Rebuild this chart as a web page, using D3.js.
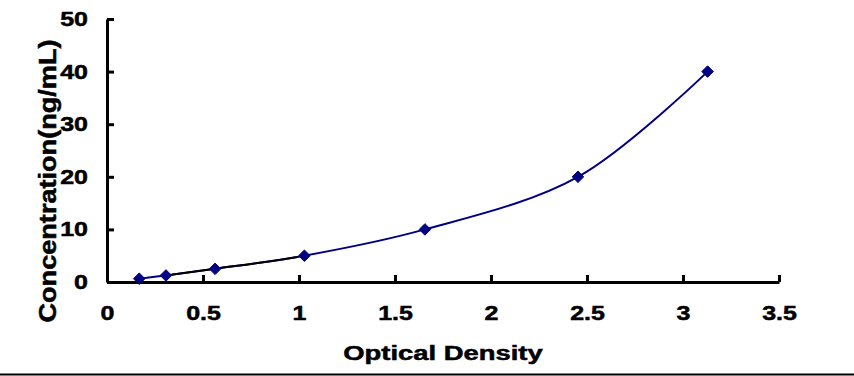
<!DOCTYPE html>
<html>
<head>
<meta charset="utf-8">
<script src="https://cdn.jsdelivr.net/npm/d3@7"></script>
<style>
  body { margin: 0; background: #fff; }
  svg { display: block; }
  text { font-family: "Liberation Sans", Arial, sans-serif; font-weight: bold; fill: #000; stroke: #000; stroke-width: 0.5px; }
</style>
</head>
<body>
<svg id="chart" width="854" height="376"></svg>
<script>
// standard curve readings
const odValues = [0.168, 0.307, 0.563, 1.028, 1.656, 2.453, 3.128];
const concValues = [0.625, 1.25, 2.5, 5, 10, 20, 40];
const xTicks = [0, 0.5, 1, 1.5, 2, 2.5, 3, 3.5];
const yTicks = [0, 10, 20, 30, 40, 50];
const xTitle = "Optical Density";
const yTitle = "Concentration(ng/mL)";

const stretch = 1.25; // the picture's text is wider than it is tall
const navy = "#000080";

const svg = d3.select("#chart");

const x = d3.scaleLinear().domain([0, 3.5]).range([107, 779]);
const y = d3.scaleLinear().domain([0, 50]).range([282, 19]);

const points = odValues.map((d, i) => [d, concValues[i]]);

function widen(sel, k) {
    sel.each(function () {
        const w = this.getComputedTextLength();
        d3.select(this).attr("textLength", w * k).attr("lengthAdjust", "spacingAndGlyphs");
    });
}

// x axis, ticks pointing up
const gx = svg.append("g")
    .attr("transform", "translate(0,282)")
    .call(d3.axisBottom(x).tickValues(xTicks).tickFormat(d => String(d))
        .tickSize(-7).tickSizeOuter(0).tickPadding(24));

// y axis, ticks pointing right
const gy = svg.append("g")
    .attr("transform", "translate(107,0)")
    .call(d3.axisLeft(y).tickValues(yTicks).tickFormat(d => String(d))
        .tickSize(-7).tickSizeOuter(0).tickPadding(19));

[gx, gy].forEach(g => {
    g.selectAll(".domain, .tick line").attr("stroke", "#000").attr("stroke-width", 3);
    g.selectAll("text").attr("font-size", 20).attr("font-family", null).call(widen, stretch);
});

// fitted curve
const line = d3.line()
    .x(d => x(d[0]))
    .y(d => y(d[1]))
    .curve(d3.curveCatmullRom.alpha(0.5));

svg.append("path")
    .datum(points)
    .attr("d", line)
    .attr("fill", "none")
    .attr("stroke", navy)
    .attr("stroke-width", 2);

// middle stretch of the curve shows black in the reference
svg.append("clipPath").attr("id", "mid")
    .append("rect")
    .attr("x", x(odValues[1]) + 6).attr("y", 0)
    .attr("width", x(odValues[3]) - x(odValues[1]) - 12).attr("height", 376);

svg.append("path")
    .datum(points)
    .attr("d", line)
    .attr("clip-path", "url(#mid)")
    .attr("fill", "none")
    .attr("stroke", "#000")
    .attr("stroke-width", 2);

// diamond markers
svg.selectAll(".pt")
    .data(points)
    .enter().append("path")
    .attr("class", "pt")
    .attr("transform", d => "translate(" + x(d[0]) + "," + y(d[1]) + ")")
    .attr("d", d3.symbol(d3.symbolDiamond2, 85))
    .attr("fill", navy)
    .attr("stroke", navy)
    .attr("stroke-width", 1);

// axis titles
svg.append("text")
    .attr("x", 443).attr("y", 360)
    .attr("text-anchor", "middle")
    .attr("font-size", 20)
    .text(xTitle)
    .call(widen, 1.37);

svg.append("text")
    .attr("transform", "translate(56,181) rotate(-90)")
    .attr("text-anchor", "middle")
    .attr("font-size", 24)
    .attr("textLength", 283)
    .attr("lengthAdjust", "spacingAndGlyphs")
    .text(yTitle);

// frame line at the bottom of the picture
svg.append("line")
    .attr("x1", 0).attr("x2", 854)
    .attr("y1", 374.5).attr("y2", 374.5)
    .attr("stroke", "#000")
    .attr("stroke-width", 2);
</script>
</body>
</html>
